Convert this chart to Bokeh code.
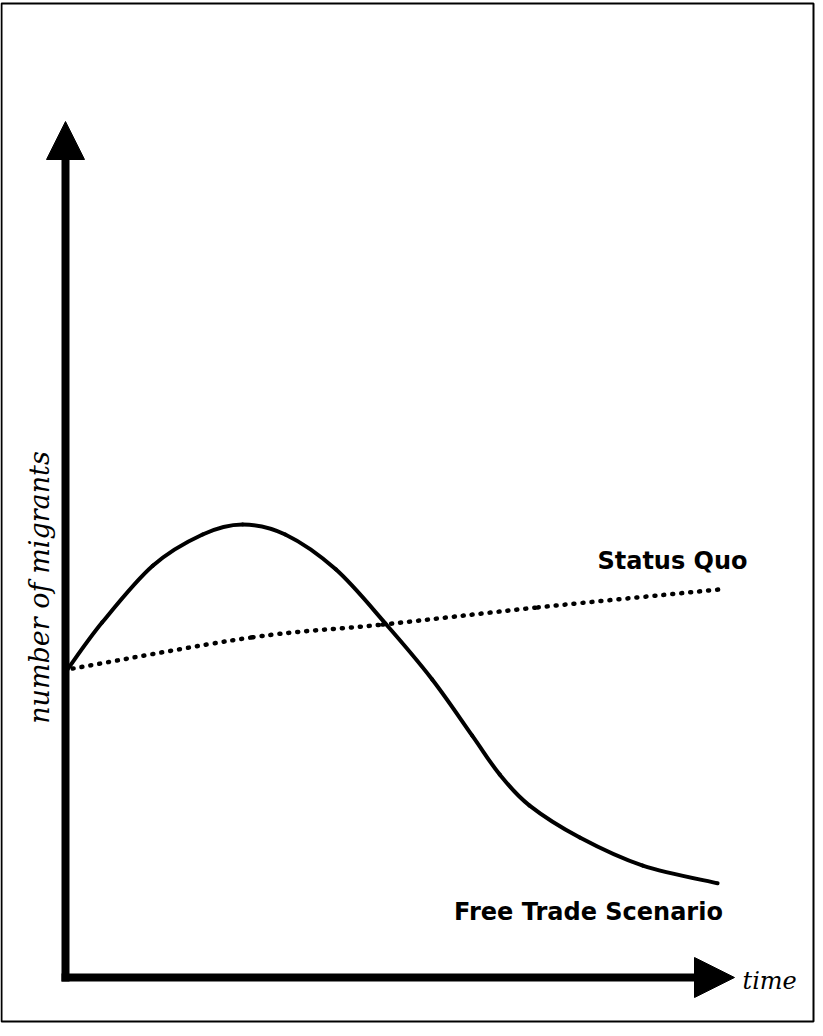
from bokeh.plotting import figure
from bokeh.models import Range1d, Arrow, NormalHead, Label, BoxAnnotation
from bokeh.embed import file_html
from bokeh.resources import INLINE
import math

# ---- data (arbitrary units: time 0-100, migrants index with peak = 100)
ft_time = [0.3, 5.6, 13.3, 20.9, 27.0, 33.5, 41.2, 48.8, 55.9, 62.0, 66.2, 70.7, 78.4, 88.0, 99.4]
ft_migrants = [68.0, 78.4, 90.9, 97.8, 100.0, 97.8, 90.1, 78.1, 65.8, 53.4, 44.8, 38.0, 30.9, 24.7, 20.8]

sq_time = [1.1, 28.5, 48.3, 72.0, 100.0]
sq_migrants = [68.2, 75.1, 77.9, 81.7, 85.7]

series_labels = ["Status Quo", "Free Trade Scenario"]
x_label = "time"
y_label = "number of migrants"

# ---- layout (screen pixels of the window; page margin is 8px)
W, H = 815, 1028
OFF = 8
ORIGIN_SX, ORIGIN_SY = 73, 985
PX_T, PX_M = 6.56, 4.53


def dx(sx):
    return (sx - ORIGIN_SX) / PX_T


def dy(sy):
    return (ORIGIN_SY - sy) / PX_M


def smooth_segments(xs, ys):
    """Catmull-Rom spline through the data points, as cubic Bezier segments."""
    n = len(xs)
    out = {k: [] for k in ("x0", "y0", "x1", "y1", "cx0", "cy0", "cx1", "cy1")}
    for i in range(n - 1):
        xm, ym = (xs[i - 1], ys[i - 1]) if i > 0 else (xs[i], ys[i])
        xp, yp = (xs[i + 2], ys[i + 2]) if i + 2 < n else (xs[i + 1], ys[i + 1])
        out["x0"].append(xs[i]); out["y0"].append(ys[i])
        out["x1"].append(xs[i + 1]); out["y1"].append(ys[i + 1])
        out["cx0"].append(xs[i] + (xs[i + 1] - xm) / 6.0)
        out["cy0"].append(ys[i] + (ys[i + 1] - ym) / 6.0)
        out["cx1"].append(xs[i + 1] - (xp - xs[i]) / 6.0)
        out["cy1"].append(ys[i + 1] - (yp - ys[i]) / 6.0)
    return out


p = figure(width=W, height=H, output_backend="svg", toolbar_location=None,
           x_range=Range1d(dx(OFF), dx(OFF + W)), y_range=Range1d(dy(OFF + H), dy(OFF)),
           min_border=0, background_fill_color="white", border_fill_color="white")
p.xaxis.visible = False
p.yaxis.visible = False
p.grid.visible = False
p.outline_line_color = None

# outer frame
p.add_layout(BoxAnnotation(left=dx(9), right=dx(821), top=dy(11), bottom=dy(1029),
                           fill_alpha=0, line_color="black", line_width=2, line_alpha=1))

# axes with arrowheads
p.add_layout(Arrow(x_start=0, y_start=dy(989), x_end=0, y_end=dy(129),
                   line_width=8, line_color="black",
                   end=NormalHead(size=38, fill_color="black", line_color="black")))
p.add_layout(Arrow(x_start=dx(69), y_start=0, x_end=dx(742), y_end=0,
                   line_width=8, line_color="black",
                   end=NormalHead(size=40, fill_color="black", line_color="black")))

# series
seg = smooth_segments(ft_time, ft_migrants)
p.bezier(x0=seg["x0"], y0=seg["y0"], x1=seg["x1"], y1=seg["y1"],
         cx0=seg["cx0"], cy0=seg["cy0"], cx1=seg["cx1"], cy1=seg["cy1"],
         line_color="black", line_width=4, line_cap="round")
sq = smooth_segments(sq_time, sq_migrants)
p.bezier(x0=sq["x0"], y0=sq["y0"], x1=sq["x1"], y1=sq["y1"],
         cx0=sq["cx0"], cy0=sq["cy0"], cx1=sq["cx1"], cy1=sq["cy1"],
         line_color="black", line_width=4.5, line_dash="1 8", line_cap="round")

# labels
p.add_layout(Label(x=dx(680), y=dy(568), text=series_labels[0], text_align="center",
                   text_baseline="middle", text_font="DejaVu Sans", text_font_style="bold",
                   text_font_size="24px", text_color="black"))
p.add_layout(Label(x=dx(596), y=dy(919), text=series_labels[1], text_align="center",
                   text_baseline="middle", text_font="DejaVu Sans", text_font_style="bold",
                   text_font_size="24px", text_color="black"))
p.add_layout(Label(x=dx(750), y=dy(988), text=x_label, text_align="left",
                   text_baseline="alphabetic", text_font="DejaVu Serif", text_font_style="italic",
                   text_font_size="24px", text_color="black"))
p.add_layout(Label(x=dx(47), y=dy(595), text=y_label, text_align="center",
                   text_baseline="middle", angle=math.pi / 2, text_font="DejaVu Serif",
                   text_font_style="italic", text_font_size="27px", text_color="black"))

open("out.html", "w").write(file_html(p, INLINE))
